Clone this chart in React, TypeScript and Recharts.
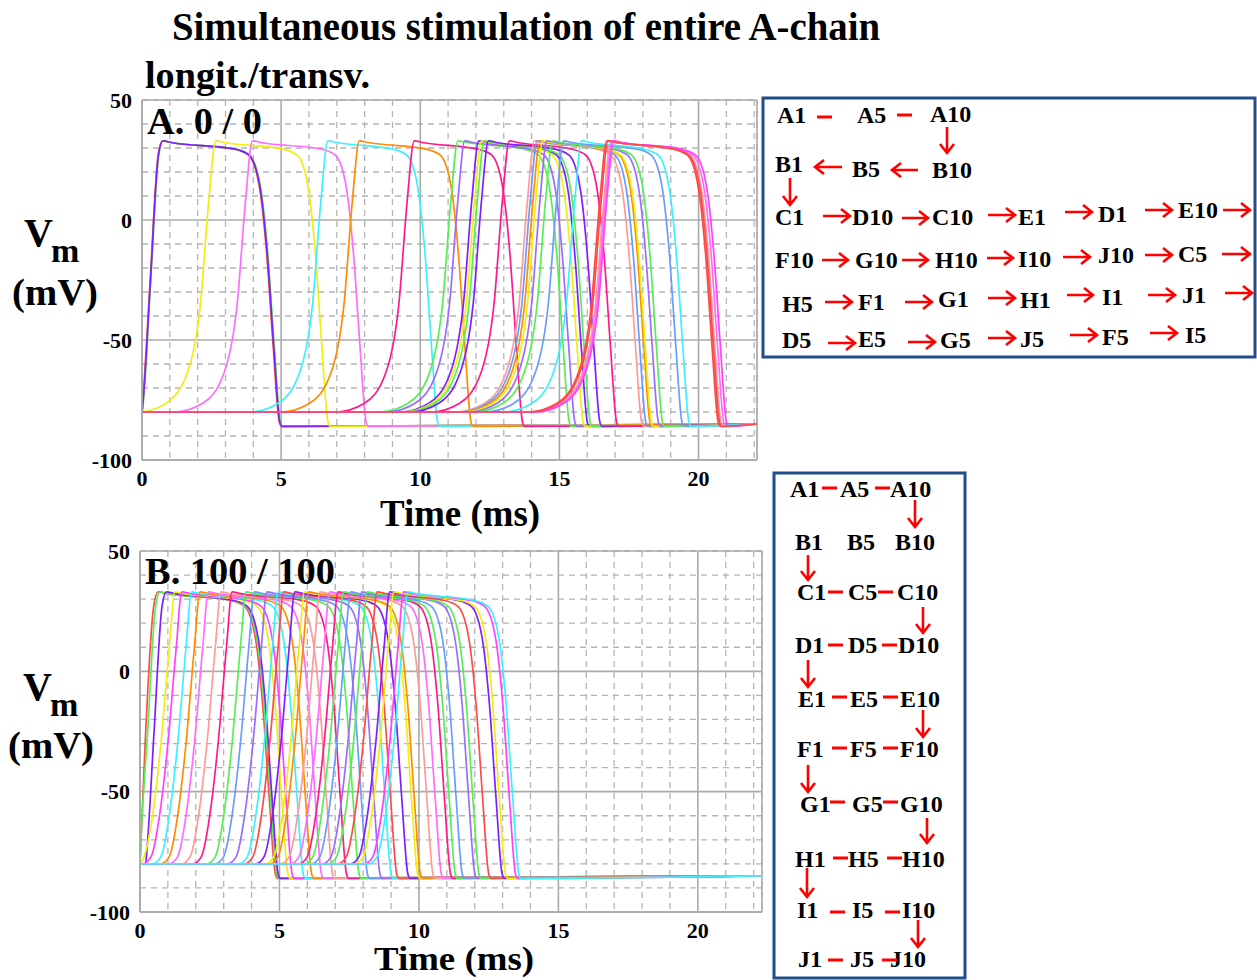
import React from 'react';
import { LineChart, Line, XAxis, YAxis, CartesianGrid } from 'recharts';

// palette seen in the traces
const PURPLE = '#7f1fff';
const YELLOW = '#eeee10';
const PINK = '#ff6cff';
const CYAN = '#3cf0ff';
const ORANGE = '#ff8c00';
const DEEPPINK = '#ff1a8c';
const GREEN = '#55ee55';
const LILAC = '#9a6cff';
const SALMON = '#ff9a9a';
const BLUE = '#6a9cff';
const RED = '#ff4a4a';
const MAGENTA = '#ff40ff';

// axis ticks
const timeTicks = [0, 5, 10, 15, 20];
const voltTicks = [-100, -50, 0, 50];
const minorTimeTicks = [1, 2, 3, 4, 6, 7, 8, 9, 11, 12, 13, 14, 16, 17, 18, 19, 21, 22];
const minorVoltTicks = [-90, -80, -70, -60, -40, -30, -20, -10, 10, 20, 30, 40];

// action potential shape (ms relative to peak / to end of repolarisation, mV)
const riseSlow: [number, number][] = [[-2.8, -80], [-1.8, -76.5], [-1.0, -63], [-0.55, -35], [-0.25, 8], [0, 33]];
const riseFast: [number, number][] = [[-0.75, -80], [-0.7, -74], [-0.45, -26], [-0.16, 27], [0, 33]];
const riseSteep: [number, number][] = [[-1.4, -80], [-1.1, -77], [-0.8, -60], [-0.5, -30], [-0.2, 10], [0, 33]];
const plateauAfterPeak: [number, number] = [0.3, 32.3];
const fallShape: [number, number][] = [[-1.6, 29.5], [-1.1, 27], [-0.7, 13], [-0.45, -14], [-0.22, -52], [0, -84], [0.08, -86]];
const restBefore = -80;
const restAfter = -85;

// panel A: 0 / 0
const colorsA = [RED, GREEN, PURPLE, YELLOW, PINK, CYAN, ORANGE, DEEPPINK, GREEN, LILAC, PURPLE, YELLOW, GREEN, PURPLE, DEEPPINK,
  SALMON, BLUE, ORANGE, YELLOW, LILAC, GREEN, BLUE, CYAN, RED, SALMON, PINK, MAGENTA, RED];
const peaksA = [0.74, 0.76, 0.75, 2.65, 3.97, 6.68, 7.81, 9.78, 11.35, 11.6, 12.1, 12.2, 12.3, 12.45, 13.2,
  14.1, 14.2, 14.3, 14.4, 14.55, 14.75, 15.15, 15.8, 16.7, 16.85, 16.9, 16.95, 16.75];
const endsA = [4.93, 4.97, 4.95, 6.68, 8.05, 10.62, 11.82, 13.67, 15.35, 15.55, 16.0, 15.85, 16.1, 16.45, 17.05,
  17.95, 18.1, 18.25, 18.3, 18.55, 18.7, 19.4, 19.65, 20.7, 20.8, 20.9, 21.0, 20.75];
const riseKindA = ['fast', 'fast', 'fast', 'slow', 'slow', 'slow', 'slow', 'slow', 'slow', 'slow', 'slow', 'slow', 'slow', 'slow', 'slow',
  'slow', 'slow', 'slow', 'slow', 'slow', 'slow', 'slow', 'slow', 'slow', 'slow', 'slow', 'slow', 'slow'];

// panel B: 100 / 100
const colorsB = [RED, GREEN, PURPLE, YELLOW, MAGENTA, CYAN, ORANGE, PINK, SALMON, DEEPPINK, GREEN, BLUE, LILAC, CYAN, RED,
  PURPLE, YELLOW, ORANGE, SALMON, PINK, DEEPPINK, GREEN, BLUE, LILAC, GREEN, RED, PURPLE, YELLOW, MAGENTA, CYAN];
const peaksB = [0.65, 0.72, 0.95, 1.25, 1.5, 1.85, 2.15, 2.45, 2.9, 3.3, 3.8, 4.1, 4.55, 4.95, 5.15,
  5.55, 5.9, 6.05, 6.45, 6.8, 7.1, 7.3, 7.55, 7.95, 8.15, 8.5, 8.95, 9.1, 9.45, 9.6];
const endsB = [4.85, 4.9, 4.95, 5.3, 5.45, 5.85, 6.15, 6.5, 6.9, 7.4, 7.85, 8.15, 8.6, 9.0, 9.2,
  9.6, 9.95, 10.05, 10.5, 10.8, 11.13, 11.3, 11.55, 12.0, 12.15, 12.5, 12.98, 13.1, 13.46, 13.58];
const riseKindB = ['fast', 'fast', 'fast', 'steep', 'steep', 'steep', 'steep', 'steep', 'steep', 'steep', 'steep', 'steep', 'steep', 'steep', 'steep',
  'steep', 'steep', 'steep', 'steep', 'steep', 'steep', 'steep', 'steep', 'steep', 'steep', 'steep', 'steep', 'steep', 'steep', 'steep'];

const SERIF = "'Liberation Serif', 'Times New Roman', serif";
const GRID = '#b4b4b4';

type Pt = { t: number; v: number };

function buildTrace(peak: number, end: number, kind: string, tMax: number): Pt[] {
  const rise = kind === 'fast' ? riseFast : kind === 'steep' ? riseSteep : riseSlow;
  const pts: Pt[] = rise.map(([dt, v]) => ({ t: peak + dt, v })).filter((p) => p.t >= 0);
  if (pts.length === 0 || pts[0].t > 0) pts.unshift({ t: 0, v: restBefore });
  pts.push({ t: peak + plateauAfterPeak[0], v: plateauAfterPeak[1] });
  fallShape.forEach(([dt, v]) => pts.push({ t: end + dt, v }));
  pts.push({ t: tMax, v: restAfter });
  return pts;
}

const tickStyle = { fill: '#000', fontSize: 22, fontWeight: 700, fontFamily: SERIF };

function Panel({ colors, peaks, ends, kinds, xMax, margin }: any) {
  return (
    <LineChart width={800} height={520} margin={margin}>
      <XAxis xAxisId="minor" type="number" dataKey="t" domain={[0, xMax]} ticks={minorTimeTicks} hide allowDataOverflow />
      <YAxis yAxisId="minor" type="number" domain={[-100, 50]} ticks={minorVoltTicks} hide allowDataOverflow />
      <CartesianGrid xAxisId="minor" yAxisId="minor" stroke={GRID} strokeDasharray="6 5" strokeWidth={1.3} />
      <CartesianGrid stroke="#aaaaaa" strokeWidth={1.6} />
      <XAxis
        type="number"
        dataKey="t"
        domain={[0, xMax]}
        ticks={timeTicks}
        allowDataOverflow
        height={40}
        tick={tickStyle}
        tickLine={false}
        tickSize={4}
        tickMargin={6}
        axisLine={{ stroke: '#aaaaaa', strokeWidth: 1.6 }}
      />
      <YAxis
        type="number"
        domain={[-100, 50]}
        ticks={voltTicks}
        allowDataOverflow
        width={60}
        tick={tickStyle}
        tickLine={false}
        tickSize={4}
        tickMargin={6}
        axisLine={{ stroke: '#aaaaaa', strokeWidth: 1.6 }}
      />
      {colors.map((c: string, i: number) => (
        <Line
          key={i}
          data={buildTrace(peaks[i], ends[i], kinds[i], xMax)}
          dataKey="v"
          type="monotone"
          stroke={c}
          strokeWidth={1.7}
          dot={false}
          isAnimationActive={false}
        />
      ))}
    </LineChart>
  );
}

// legend box contents
const legendATexts: [string, number, number][] = [
  ['A1', 777, 123], ['A5', 857, 123], ['A10', 930, 122],
  ['B1', 775, 172], ['B5', 852, 177], ['B10', 932, 178],
  ['C1', 775, 225], ['D10', 852, 225], ['C10', 932, 225], ['E1', 1018, 225], ['D1', 1098, 222], ['E10', 1178, 218],
  ['F10', 775, 268], ['G10', 855, 268], ['H10', 935, 268], ['I10', 1018, 267], ['J10', 1098, 263], ['C5', 1178, 262],
  ['H5', 782, 312], ['F1', 858, 310], ['G1', 938, 307], ['H1', 1020, 308], ['I1', 1102, 305], ['J1', 1182, 303],
  ['D5', 782, 348], ['E5', 858, 347], ['G5', 940, 348], ['J5', 1020, 347], ['F5', 1102, 345], ['I5', 1185, 343],
];
const legendARight: [number, number, number][] = [
  [823, 850, 216], [902, 928, 218], [988, 1015, 215], [1065, 1092, 212], [1145, 1172, 210], [1223, 1250, 210],
  [822, 848, 260], [902, 928, 260], [987, 1013, 258], [1063, 1090, 257], [1145, 1172, 255], [1222, 1250, 254],
  [825, 852, 302], [905, 932, 302], [988, 1015, 298], [1067, 1093, 295], [1148, 1175, 295], [1225, 1252, 293],
  [828, 855, 343], [908, 935, 342], [988, 1015, 338], [1070, 1097, 335], [1150, 1177, 333],
];
const legendALeft: [number, number, number][] = [[815, 842, 167], [892, 918, 170]];
const legendADash: [number, number, number][] = [[817, 832, 117], [897, 912, 115]];
const legendADown: [number, number, number][] = [[947, 127, 153], [790, 178, 205]];

const legendBRows = ['A', 'B', 'C', 'D', 'E', 'F', 'G', 'H', 'I', 'J'];
const legendBBase = [497, 550, 600, 653, 707, 757, 812, 867, 918, 967];
const legendBCols = [
  [790, 840, 890], [795, 847, 895], [797, 848, 897], [795, 848, 898], [798, 850, 900],
  [797, 850, 900], [800, 852, 900], [795, 848, 902], [797, 852, 902], [798, 850, 890],
];
const legendBDash: [number, number, number][] = [
  [822, 837, 488], [875, 890, 488], [828, 843, 592], [878, 893, 592], [828, 843, 645], [882, 897, 645],
  [832, 847, 697], [883, 898, 697], [832, 847, 748], [883, 898, 748], [830, 845, 802], [883, 898, 802],
  [833, 848, 858], [887, 902, 858], [830, 845, 912], [885, 900, 912], [828, 843, 960], [882, 897, 960],
];
const legendBDown: [number, number, number][] = [
  [915, 500, 527], [808, 555, 580], [923, 607, 633], [808, 660, 687], [923, 710, 737],
  [808, 765, 792], [927, 818, 843], [807, 868, 897], [918, 920, 947],
];

const ARROW = '#ff0000';

function RightArrow({ x1, x2, y }: any) {
  return <path d={`M${x1},${y} L${x2},${y} M${x2 - 9},${y - 7} L${x2},${y} L${x2 - 9},${y + 7}`} stroke={ARROW} strokeWidth={2.6} fill="none" />;
}
function LeftArrow({ x1, x2, y }: any) {
  return <path d={`M${x2},${y} L${x1},${y} M${x1 + 9},${y - 7} L${x1},${y} L${x1 + 9},${y + 7}`} stroke={ARROW} strokeWidth={2.6} fill="none" />;
}
function DownArrow({ x, y1, y2 }: any) {
  return <path d={`M${x},${y1} L${x},${y2} M${x - 7},${y2 - 9} L${x},${y2} L${x + 7},${y2 - 9}`} stroke={ARROW} strokeWidth={2.6} fill="none" />;
}
function Dash({ x1, x2, y }: any) {
  return <line x1={x1} x2={x2} y1={y} y2={y} stroke={ARROW} strokeWidth={3} />;
}

function Overlay() {
  const bold = { fontFamily: SERIF, fontWeight: 700, fill: '#000' } as const;
  return (
    <svg width={1257} height={980} style={{ position: 'absolute', left: 0, top: 0, pointerEvents: 'none' }}>
      <text x={172} y={40} fontSize={40} textLength={708} lengthAdjust="spacingAndGlyphs" {...bold}>Simultaneous stimulation of entire A-chain</text>
      <text x={145} y={88} fontSize={38} textLength={225} lengthAdjust="spacingAndGlyphs" {...bold}>longit./transv.</text>

      <text x={147} y={134} fontSize={37} textLength={115} lengthAdjust="spacingAndGlyphs" {...bold}>A. 0 / 0</text>
      <text x={145} y={584} fontSize={37} textLength={190} lengthAdjust="spacingAndGlyphs" {...bold}>B. 100 / 100</text>

      <text x={24} y={246} fontSize={40} {...bold}>V<tspan dx={-2} dy={16} fontSize={34}>m</tspan></text>
      <text x={12} y={305} fontSize={38} textLength={86} lengthAdjust="spacingAndGlyphs" {...bold}>(mV)</text>
      <text x={23} y={700} fontSize={40} {...bold}>V<tspan dx={-2} dy={16} fontSize={34}>m</tspan></text>
      <text x={8} y={758} fontSize={38} textLength={86} lengthAdjust="spacingAndGlyphs" {...bold}>(mV)</text>

      <text x={380} y={526} fontSize={37} textLength={160} lengthAdjust="spacingAndGlyphs" {...bold}>Time (ms)</text>
      <text x={374} y={970} fontSize={33} textLength={160} lengthAdjust="spacingAndGlyphs" {...bold}>Time (ms)</text>

      <rect x={763} y={98} width={492} height={259} fill="none" stroke="#1f4e8a" strokeWidth={3} />
      {legendATexts.map(([s, x, y], i) => (
        <text key={`a${i}`} x={x} y={y} fontSize={24} {...bold}>{s}</text>
      ))}
      {legendARight.map(([x1, x2, y], i) => <RightArrow key={`ar${i}`} x1={x1} x2={x2} y={y} />)}
      {legendALeft.map(([x1, x2, y], i) => <LeftArrow key={`al${i}`} x1={x1} x2={x2} y={y} />)}
      {legendADash.map(([x1, x2, y], i) => <Dash key={`ad${i}`} x1={x1} x2={x2} y={y} />)}
      {legendADown.map(([x, y1, y2], i) => <DownArrow key={`av${i}`} x={x} y1={y1} y2={y2} />)}

      <rect x={774} y={473} width={191} height={505} fill="none" stroke="#1f4e8a" strokeWidth={3} />
      {legendBRows.map((r, i) =>
        ['1', '5', '10'].map((n, j) => (
          <text key={`b${i}${j}`} x={legendBCols[i][j]} y={legendBBase[i]} fontSize={24} {...bold}>{r + n}</text>
        ))
      )}
      {legendBDash.map(([x1, x2, y], i) => <Dash key={`bd${i}`} x1={x1} x2={x2} y={y} />)}
      {legendBDown.map(([x, y1, y2], i) => <DownArrow key={`bv${i}`} x={x} y1={y1} y2={y2} />)}
    </svg>
  );
}

export default function App() {
  return (
    <div style={{ position: 'absolute', left: 0, top: 0, width: 1257, height: 980, background: '#fff', overflow: 'hidden' }}>
      <div style={{ position: 'absolute', left: 0, top: 0 }}>
        <Panel colors={colorsA} peaks={peaksA} ends={endsA} kinds={riseKindA} xMax={22.1}
          margin={{ top: 100, right: 43, bottom: 20, left: 82 }} />
      </div>
      <div style={{ position: 'absolute', left: 0, top: 451 }}>
        <Panel colors={colorsB} peaks={peaksB} ends={endsB} kinds={riseKindB} xMax={22.3}
          margin={{ top: 100, right: 38, bottom: 19, left: 80 }} />
      </div>
      <Overlay />
    </div>
  );
}
